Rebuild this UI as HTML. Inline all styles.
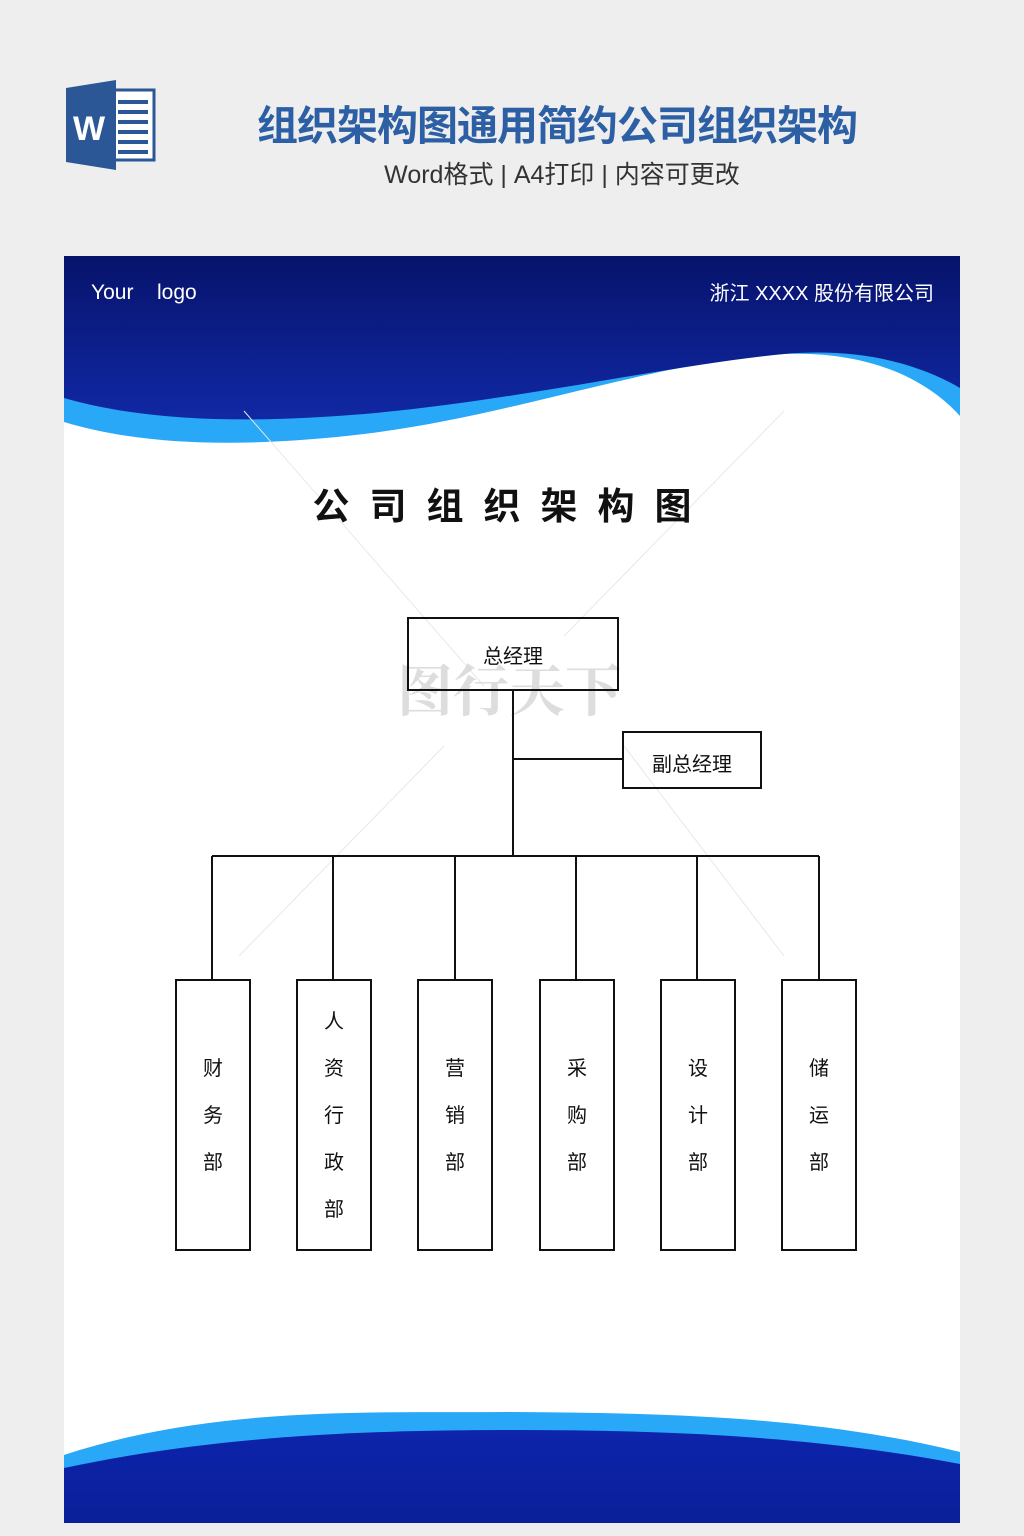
<!DOCTYPE html>
<html><head><meta charset="utf-8"><style>
html,body{margin:0;padding:0;}
body{width:1024px;height:1536px;background:#eeeeee;position:relative;overflow:hidden;font-family:"Liberation Sans","Noto Sans CJK SC",sans-serif;}
.abs{position:absolute;}
</style></head><body>
<!-- word icon -->
<svg class="abs" style="left:64px;top:80px" width="94" height="92" viewBox="0 0 94 92">
<rect x="40" y="10" width="50" height="70" fill="#fff" stroke="#2b5797" stroke-width="3"/>
<g fill="#2b5797"><rect x="54" y="20" width="30" height="4"/><rect x="54" y="30" width="30" height="4"/><rect x="54" y="40" width="30" height="4"/><rect x="54" y="50" width="30" height="4"/><rect x="54" y="60" width="30" height="4"/><rect x="54" y="70" width="30" height="4"/></g>
<polygon points="2,8 52,0 52,90 2,82" fill="#2b5797"/>
<text x="9" y="60" font-family="Liberation Sans" font-weight="bold" font-size="34" fill="#fff">W</text>
</svg>
<div class="abs" style="left:200px;width:714px;top:92px;text-align:center;font-size:41px;font-weight:bold;color:#2d5fa5;letter-spacing:-1px;">组织架构图通用简约公司组织架构</div>
<div class="abs" style="left:300px;width:524px;top:155px;text-align:center;font-size:25px;color:#333;">Word格式 | A4打印 | 内容可更改</div>

<!-- page -->
<svg class="abs" style="left:64px;top:256px" width="896" height="1267" viewBox="0 0 896 1267">
<defs><linearGradient id="g" x1="0" y1="0" x2="0" y2="1"><stop offset="0" stop-color="#07136b"/><stop offset="1" stop-color="#1028a4"/></linearGradient>
<linearGradient id="g2" x1="0" y1="0" x2="0" y2="1"><stop offset="0" stop-color="#0d24ac"/><stop offset="1" stop-color="#0a1f98"/></linearGradient></defs>
<rect width="896" height="1267" fill="#fff"/>
<path d="M0 0H896V160C860 120 800 95 720 98C600 103 450 160 300 178C180 192 80 190 0 166Z" fill="#29a8f7"/>
<path d="M0 0H896V132C850 105 790 92 720 98C600 110 450 145 300 158C180 168 80 165 0 142Z" fill="url(#g)"/>
<path d="M0 1199C150 1150 300 1157 448 1156C600 1157 750 1160 896 1196V1267H0Z" fill="#29a8f7"/>
<path d="M0 1212C150 1180 300 1174 448 1174C600 1174 750 1180 896 1208V1267H0Z" fill="url(#g2)"/>
<g stroke="#e8e8e8" stroke-width="1"><line x1="180" y1="155" x2="420" y2="430"/><line x1="720" y1="155" x2="500" y2="380"/><line x1="380" y1="490" x2="175" y2="700"/><line x1="560" y1="490" x2="720" y2="700"/></g>
<text x="27" y="43" font-size="21" fill="#fff">Your</text>
<text x="93" y="43" font-size="21" fill="#fff">logo</text>
<text x="870" y="44" font-size="20" fill="#fff" text-anchor="end">浙江 XXXX 股份有限公司</text>
<text x="448" y="263" font-size="37" font-weight="bold" fill="#111" text-anchor="middle" letter-spacing="20">公司组织架构图</text>
<text x="445" y="455" font-size="56" fill="#d0d0d0" text-anchor="middle" font-family="Noto Serif CJK SC,serif" font-weight="bold" opacity="0.7">图行天下</text>
<g stroke="#111" stroke-width="2" fill="none">
<rect x="344" y="362" width="210" height="72"/>
<rect x="559" y="476" width="138" height="56"/>
<line x1="449" y1="434" x2="449" y2="600"/>
<line x1="449" y1="503" x2="559" y2="503"/>
<line x1="148" y1="600" x2="755" y2="600"/>
<line x1="148" y1="600" x2="148" y2="724"/><line x1="269" y1="600" x2="269" y2="724"/><line x1="391" y1="600" x2="391" y2="724"/><line x1="512" y1="600" x2="512" y2="724"/><line x1="633" y1="600" x2="633" y2="724"/><line x1="755" y1="600" x2="755" y2="724"/>
<rect x="112" y="724" width="74" height="270"/><rect x="233" y="724" width="74" height="270"/><rect x="354" y="724" width="74" height="270"/><rect x="476" y="724" width="74" height="270"/><rect x="597" y="724" width="74" height="270"/><rect x="718" y="724" width="74" height="270"/>
</g>
<g font-size="20" fill="#111" text-anchor="middle">
<text x="449" y="407">总经理</text>
<text x="628" y="515">副总经理</text>
<text x="149" y="819">财</text><text x="149" y="866">务</text><text x="149" y="913">部</text>
<text x="270" y="772">人</text><text x="270" y="819">资</text><text x="270" y="866">行</text><text x="270" y="913">政</text><text x="270" y="960">部</text>
<text x="391" y="819">营</text><text x="391" y="866">销</text><text x="391" y="913">部</text>
<text x="513" y="819">采</text><text x="513" y="866">购</text><text x="513" y="913">部</text>
<text x="634" y="819">设</text><text x="634" y="866">计</text><text x="634" y="913">部</text>
<text x="755" y="819">储</text><text x="755" y="866">运</text><text x="755" y="913">部</text>
</g>
</svg>
</body></html>
